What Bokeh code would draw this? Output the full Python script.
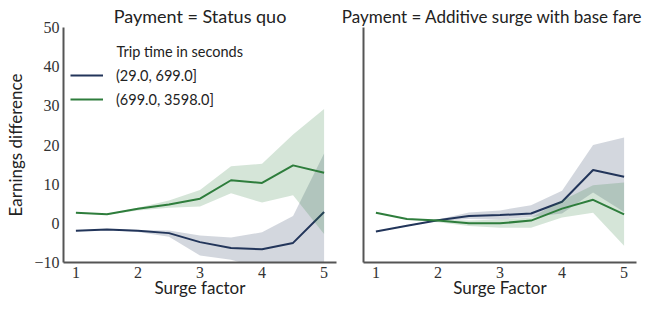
from bokeh.plotting import figure
from bokeh.layouts import row
from bokeh.models import Legend, LegendItem, Label, Range1d, FixedTicker
from bokeh.embed import file_html
from bokeh.resources import INLINE

surge = [1, 1.5, 2, 2.5, 3, 3.5, 4, 4.5, 5]
x_ticks = [1, 2, 3, 4, 5]
y_ticks = [-10, 0, 10, 20, 30, 40, 50]
series_labels = ["(29.0, 699.0]", "(699.0, 3598.0]"]
legend_title = "Trip time in seconds"

# Payment = Status quo
sq_short_mean = [-1.9, -1.6, -1.9, -2.5, -4.8, -6.3, -6.6, -5.0, 2.9]
sq_short_lo = [-2.0, -1.7, -2.2, -3.4, -8.2, -9.3, -11.5, -13.0, -20.0]
sq_short_hi = [-1.8, -1.5, -1.7, -1.8, -3.1, -3.6, -2.3, 1.9, 17.8]
sq_long_mean = [2.7, 2.3, 3.7, 4.8, 6.3, 11.0, 10.3, 14.8, 12.9]
sq_long_lo = [2.6, 2.2, 3.3, 4.0, 4.3, 7.7, 5.3, 7.2, -2.7]
sq_long_hi = [2.8, 2.4, 4.0, 5.8, 8.5, 14.6, 15.2, 22.7, 29.2]

# Payment = Additive surge with base fare
add_short_mean = [-2.1, -0.6, 0.8, 1.9, 2.1, 2.5, 5.5, 13.6, 11.9]
add_short_lo = [-2.2, -0.7, 0.6, 1.1, 1.0, 1.6, 2.5, 7.9, 2.9]
add_short_hi = [-2.0, -0.5, 1.0, 2.75, 3.3, 4.6, 8.3, 20.0, 21.9]
add_long_mean = [2.7, 1.1, 0.7, 0.0, 0.0, 0.7, 3.75, 6.0, 2.3]
add_long_lo = [2.6, 1.0, 0.3, -0.7, -1.1, -1.1, 1.5, 2.7, -5.7]
add_long_hi = [2.8, 1.2, 1.0, 0.7, 1.0, 1.5, 5.8, 9.75, 10.4]

NAVY = "#22355a"
GREEN = "#2e7d3c"
AXIS = "#555555"
SANS = "Lato"
SERIF = "Liberation Serif"


def make_panel(title, title_size, title_align, title_offset, xlabel, width, left, right, data, show_y):
    p = figure(width=width, height=300, output_backend="svg", toolbar_location=None,
               x_range=Range1d(0.8, 5.2), y_range=Range1d(-10, 50),
               min_border_left=left, min_border_right=right,
               min_border_top=27, min_border_bottom=34, title=title)
    p.title.text_font = SANS
    p.title.text_font_size = title_size
    p.title.text_font_style = "normal"
    p.title.align = title_align
    p.title.offset = title_offset
    p.title.text_color = "#222222"
    p.title.standoff = 2
    p.outline_line_color = None
    p.grid.grid_line_color = None
    for ax in (p.xaxis, p.yaxis):
        ax.axis_line_color = AXIS
        ax.axis_line_width = 2
        ax.major_tick_line_color = None
        ax.minor_tick_line_color = None
        ax.major_tick_out = 0
        ax.major_tick_in = 0
        ax.minor_tick_out = 0
        ax.minor_tick_in = 0
        ax.major_label_text_font = SERIF
        ax.major_label_text_font_size = "16px"
        ax.major_label_text_color = "#333333"
        ax.axis_label_text_font = SANS
        ax.axis_label_text_font_size = "17px"
        ax.axis_label_text_font_style = "normal"
        ax.axis_label_text_color = "#222222"
    p.xaxis.ticker = FixedTicker(ticks=x_ticks)
    p.xaxis.axis_label = xlabel
    p.xaxis.major_label_standoff = 4
    p.xaxis.axis_label_standoff = -4
    if show_y:
        p.yaxis.ticker = FixedTicker(ticks=y_ticks)
        p.yaxis.axis_label = "Earnings difference"
        p.yaxis.major_label_standoff = 4
        p.yaxis.axis_label_standoff = 5
        p.yaxis.major_label_overrides = {v: (f"\u2212{abs(v)}" if v < 0 else str(v)) for v in y_ticks}
    else:
        p.yaxis.ticker = FixedTicker(ticks=[])
        p.yaxis.major_label_standoff = 0
    smean, slo, shi, lmean, llo, lhi = data
    p.varea(x=surge, y1=slo, y2=shi, fill_color=NAVY, fill_alpha=0.2)
    r1 = p.line(surge, smean, line_color=NAVY, line_width=2)
    p.varea(x=surge, y1=llo, y2=lhi, fill_color=GREEN, fill_alpha=0.2)
    r2 = p.line(surge, lmean, line_color=GREEN, line_width=2)
    return p, r1, r2


p1, a, b = make_panel("Payment = Status quo", "18px", "center", 0, "Surge factor", 338, 63, 2,
                      (sq_short_mean, sq_short_lo, sq_short_hi, sq_long_mean, sq_long_lo, sq_long_hi), True)
p2, _, _ = make_panel("Payment = Additive surge with base fare", "17px", "right", -6, "Surge Factor", 310, 25, 12,
                      (add_short_mean, add_short_lo, add_short_hi, add_long_mean, add_long_lo, add_long_hi), False)

legend = Legend(items=[LegendItem(label=series_labels[0], renderers=[a]),
                       LegendItem(label=series_labels[1], renderers=[b])],
                location=(7, 153), padding=0, margin=0, spacing=4,
                glyph_width=33, glyph_height=20, label_height=20, label_standoff=13,
                label_text_font=SANS, label_text_font_size="14.5px", label_text_color="#222222",
                background_fill_alpha=0, border_line_color=None)
p1.add_layout(legend)
p1.add_layout(Label(x=53, y=211, x_units="screen", y_units="screen", text=legend_title,
                    text_font=SANS, text_font_size="14.5px", text_color="#222222",
                    text_baseline="middle"))

layout = row(p1, p2)
open("out.html", "w").write(file_html(layout, INLINE))
